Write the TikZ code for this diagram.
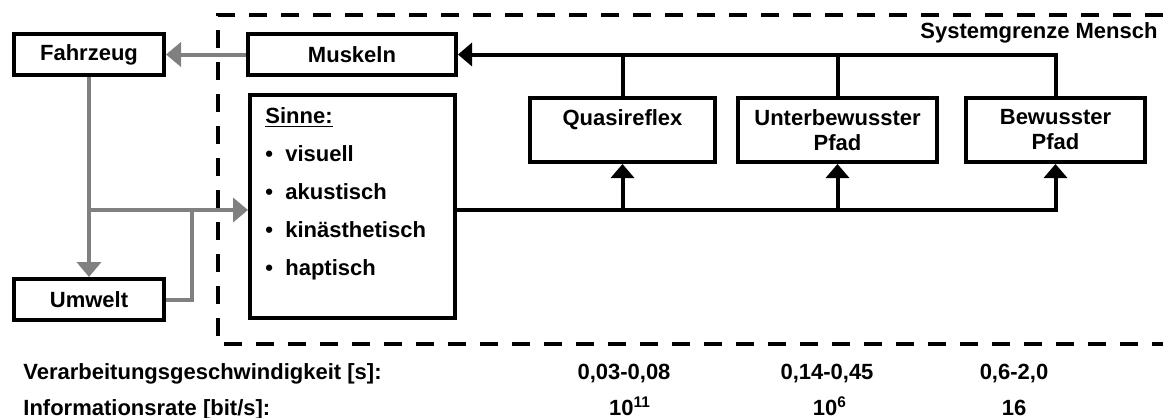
\documentclass[tikz,border=0pt]{standalone}
\usepackage{fontspec}
\setmainfont{Liberation Sans}
\usetikzlibrary{arrows.meta}
\definecolor{pfeilgrau}{RGB}{128,128,128}

\begin{document}
\begin{tikzpicture}[x=0.5pt,y=-0.5pt,
  font=\fontsize{11}{12.5}\selectfont\bfseries,
  kasten/.style={draw,line width=2pt,inner sep=2pt,align=center},
  zeile/.style={inner sep=0pt},
  schwarz/.style={line width=2pt,-{Triangle[length=7pt,width=11.5pt]}},
  grau/.style={draw=pfeilgrau,line width=2pt,-{Triangle[length=7.5pt,width=12pt]}},
  grenzlinie/.style={line width=2pt,dash pattern=on 9pt off 7pt}]
\useasboundingbox (0,0) rectangle (1163,418);

\draw[grenzlinie] (1163,15) -- (218,15) -- (218,344) -- (1163,344);
\node[zeile,anchor=east] (grenze) at (1158,33) {Systemgrenze Mensch};

\node[kasten,minimum width=75pt,minimum height=20.5pt] (fahrzeug) at (89,54.5) {Fahrzeug};
\node[kasten,minimum width=75pt,minimum height=20.5pt] (umwelt) at (89,299.5) {Umwelt};
\node[kasten,minimum width=104pt,minimum height=20.5pt] (muskeln) at (352,54.5) {Muskeln};
\node[kasten,minimum width=102.5pt,minimum height=111.5pt] (sinne) at (352.5,206.5) {};
\node[zeile,anchor=north west,align=left,font=\fontsize{11}{19}\selectfont\bfseries] (sinnetext) at (265,107)
  {\underline{Sinne:}\\
   \makebox[10pt][l]{\textbullet}visuell\\
   \makebox[10pt][l]{\textbullet}akustisch\\
   \makebox[10pt][l]{\textbullet}kinästhetisch\\
   \makebox[10pt][l]{\textbullet}haptisch};

\node[kasten,minimum width=92.5pt,minimum height=32pt] (quasi) at (622.5,130) {Quasireflex\\\phantom{Pfad}};
\node[kasten,minimum width=99.5pt,minimum height=32pt] (unter) at (837.5,130) {Unterbewusster\\Pfad};
\node[kasten,minimum width=89.5pt,minimum height=32pt] (bewusst) at (1055.5,130) {Bewusster\\Pfad};

% graue Pfeile
\coordinate (abzweig) at (89,210);
\coordinate (knick) at (192,210);
\draw[grau] (muskeln.west) -- (fahrzeug.east);
\draw[grau] (fahrzeug.south) -- (umwelt.north);
\draw[grau] (abzweig) -- (abzweig -| sinne.west);
\draw[draw=pfeilgrau,line width=2pt] (umwelt.east) -| (knick);

% schwarze Pfade
\draw[schwarz] (abzweig -| sinne.east) -| (bewusst.south);
\draw[schwarz] (quasi.south |- abzweig) -- (quasi.south);
\draw[schwarz] (unter.south |- abzweig) -- (unter.south);
\draw[schwarz] (bewusst.north) |- (muskeln.east);
\draw[line width=2pt] (quasi.north) -- (quasi.north |- muskeln.east);
\draw[line width=2pt] (unter.north) -- (unter.north |- muskeln.east);

% Tabelle unten
\node[zeile,anchor=base west] (zeitlabel) at (23,379) {Verarbeitungsgeschwindigkeit [s]:};
\node[zeile,anchor=base west] (ratelabel) at (23,415) {Informationsrate [bit/s]:};
\node[zeile,anchor=base] (zeitquasi) at (624,379) {0,03-0,08};
\node[zeile,anchor=base] (zeitunter) at (827,379) {0,14-0,45};
\node[zeile,anchor=base] (zeitbewusst) at (1014,379) {0,6-2,0};
\node[zeile,anchor=base] (ratequasi) at (630,415) {10\textsuperscript{11}};
\node[zeile,anchor=base] (rateunter) at (830,415) {10\textsuperscript{6}};
\node[zeile,anchor=base] (ratebewusst) at (1014,415) {16};
\end{tikzpicture}
\end{document}
